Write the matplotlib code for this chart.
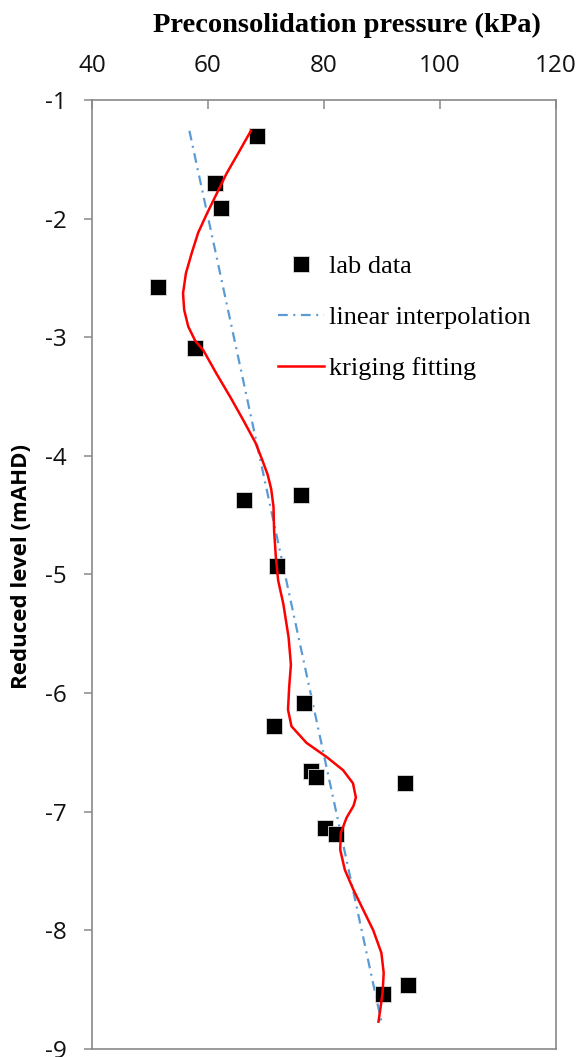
import matplotlib

matplotlib.use("Agg")
import matplotlib.pyplot as plt

plt.rcParams["axes.unicode_minus"] = False

# lab data: preconsolidation pressure (kPa) vs reduced level (mAHD)
lab_p = [68.4, 61.2, 62.2, 51.3, 57.8, 66.2, 76.0, 71.9, 76.5, 71.4,
         77.7, 78.6, 94.0, 80.1, 82.1, 90.2, 94.5]
lab_rl = [-1.30, -1.70, -1.91, -2.58, -3.09, -4.37, -4.33, -4.93, -6.08, -6.28,
          -6.66, -6.71, -6.76, -7.14, -7.19, -8.54, -8.46]

# linear interpolation end points
lin_p = [56.8, 89.9]
lin_rl = [-1.26, -8.77]

# kriging fitted profile
krig_p = [67.4, 65.2, 63.2, 61.5, 59.8, 58.3, 57.2, 56.2, 55.7, 55.9, 56.6,
          57.8, 59.2, 61.5, 63.8, 66.1, 68.2, 69.4, 70.3, 70.9, 71.3, 71.4,
          71.7, 72.1, 73.0, 73.9, 74.3, 74.0, 73.8, 74.4, 77.0, 80.5, 83.3,
          85.0, 85.5, 85.1, 83.9, 82.9, 82.8, 83.6, 85.1, 86.8, 88.5, 89.9,
          90.3, 90.1, 89.7, 89.4]
krig_rl = [-1.26, -1.45, -1.62, -1.79, -1.96, -2.12, -2.29, -2.46, -2.63, -2.77,
           -2.91, -3.03, -3.11, -3.31, -3.50, -3.70, -3.89, -4.04, -4.16, -4.28,
           -4.43, -4.63, -4.85, -5.05, -5.25, -5.53, -5.76, -5.95, -6.14, -6.28,
           -6.42, -6.54, -6.65, -6.76, -6.88, -6.95, -7.05, -7.18, -7.32, -7.49,
           -7.66, -7.83, -8.00, -8.19, -8.36, -8.53, -8.67, -8.77]

x_ticks = [40, 60, 80, 100, 120]
y_ticks = [-1, -2, -3, -4, -5, -6, -7, -8, -9]

SANS = ["Open Sans", "DejaVu Sans"]
SERIF = ["Liberation Serif", "DejaVu Serif"]
GRAY = "#898989"

fig = plt.figure(figsize=(5.81, 10.57), dpi=100)
ax = fig.add_axes([0.1583, 0.0076, 0.7986, 0.8978])

ax.plot(lab_p, lab_rl, "s", color="black", ms=12, mec="#dddddd", mew=0.6,
        label="lab data", zorder=3)
ax.plot(lin_p, lin_rl, color="#5B9BD5", lw=1.6, ls=(0, (4.4, 2.5, 0.9, 2.5)),
        label="linear interpolation", zorder=2)
ax.plot(krig_p, krig_rl, color="#FF0000", lw=1.8, label="kriging fitting",
        zorder=4, solid_joinstyle="round")

ax.set_xlim(40, 120)
ax.set_ylim(-9, -1)
ax.set_xticks(x_ticks)
ax.set_yticks(y_ticks)
ax.xaxis.tick_top()
ax.xaxis.set_label_position("top")
ax.tick_params(axis="x", direction="in", length=6.5, width=1.1, color=GRAY,
               labelsize=17.5, pad=16)
ax.tick_params(axis="y", direction="out", length=6, width=1.1, color=GRAY,
               labelsize=17.5, pad=12)
for lab in ax.get_xticklabels() + ax.get_yticklabels():
    lab.set_family(SANS)
    lab.set_color("#111111")
for sp in ax.spines.values():
    sp.set_color(GRAY)
    sp.set_linewidth(1.2)

ax.set_xlabel("Preconsolidation pressure (kPa)", family=SERIF,
              fontweight="bold", fontsize=20.5)
ax.xaxis.set_label_coords(0.549, 1.0 + 68 / 949)
ax.set_ylabel("Reduced level (mAHD)", family=SANS, fontweight="bold",
              fontsize=16)
ax.yaxis.set_label_coords(-60 / 464, 0.508)

ax.legend(loc="upper left", bbox_to_anchor=(0.378, 0.848), frameon=False,
          prop={"family": SERIF, "size": 19}, handlelength=1.74,
          handletextpad=0.2, labelspacing=1.04, borderaxespad=0,
          markerscale=0.92)

fig.savefig("out.png", dpi=100)
